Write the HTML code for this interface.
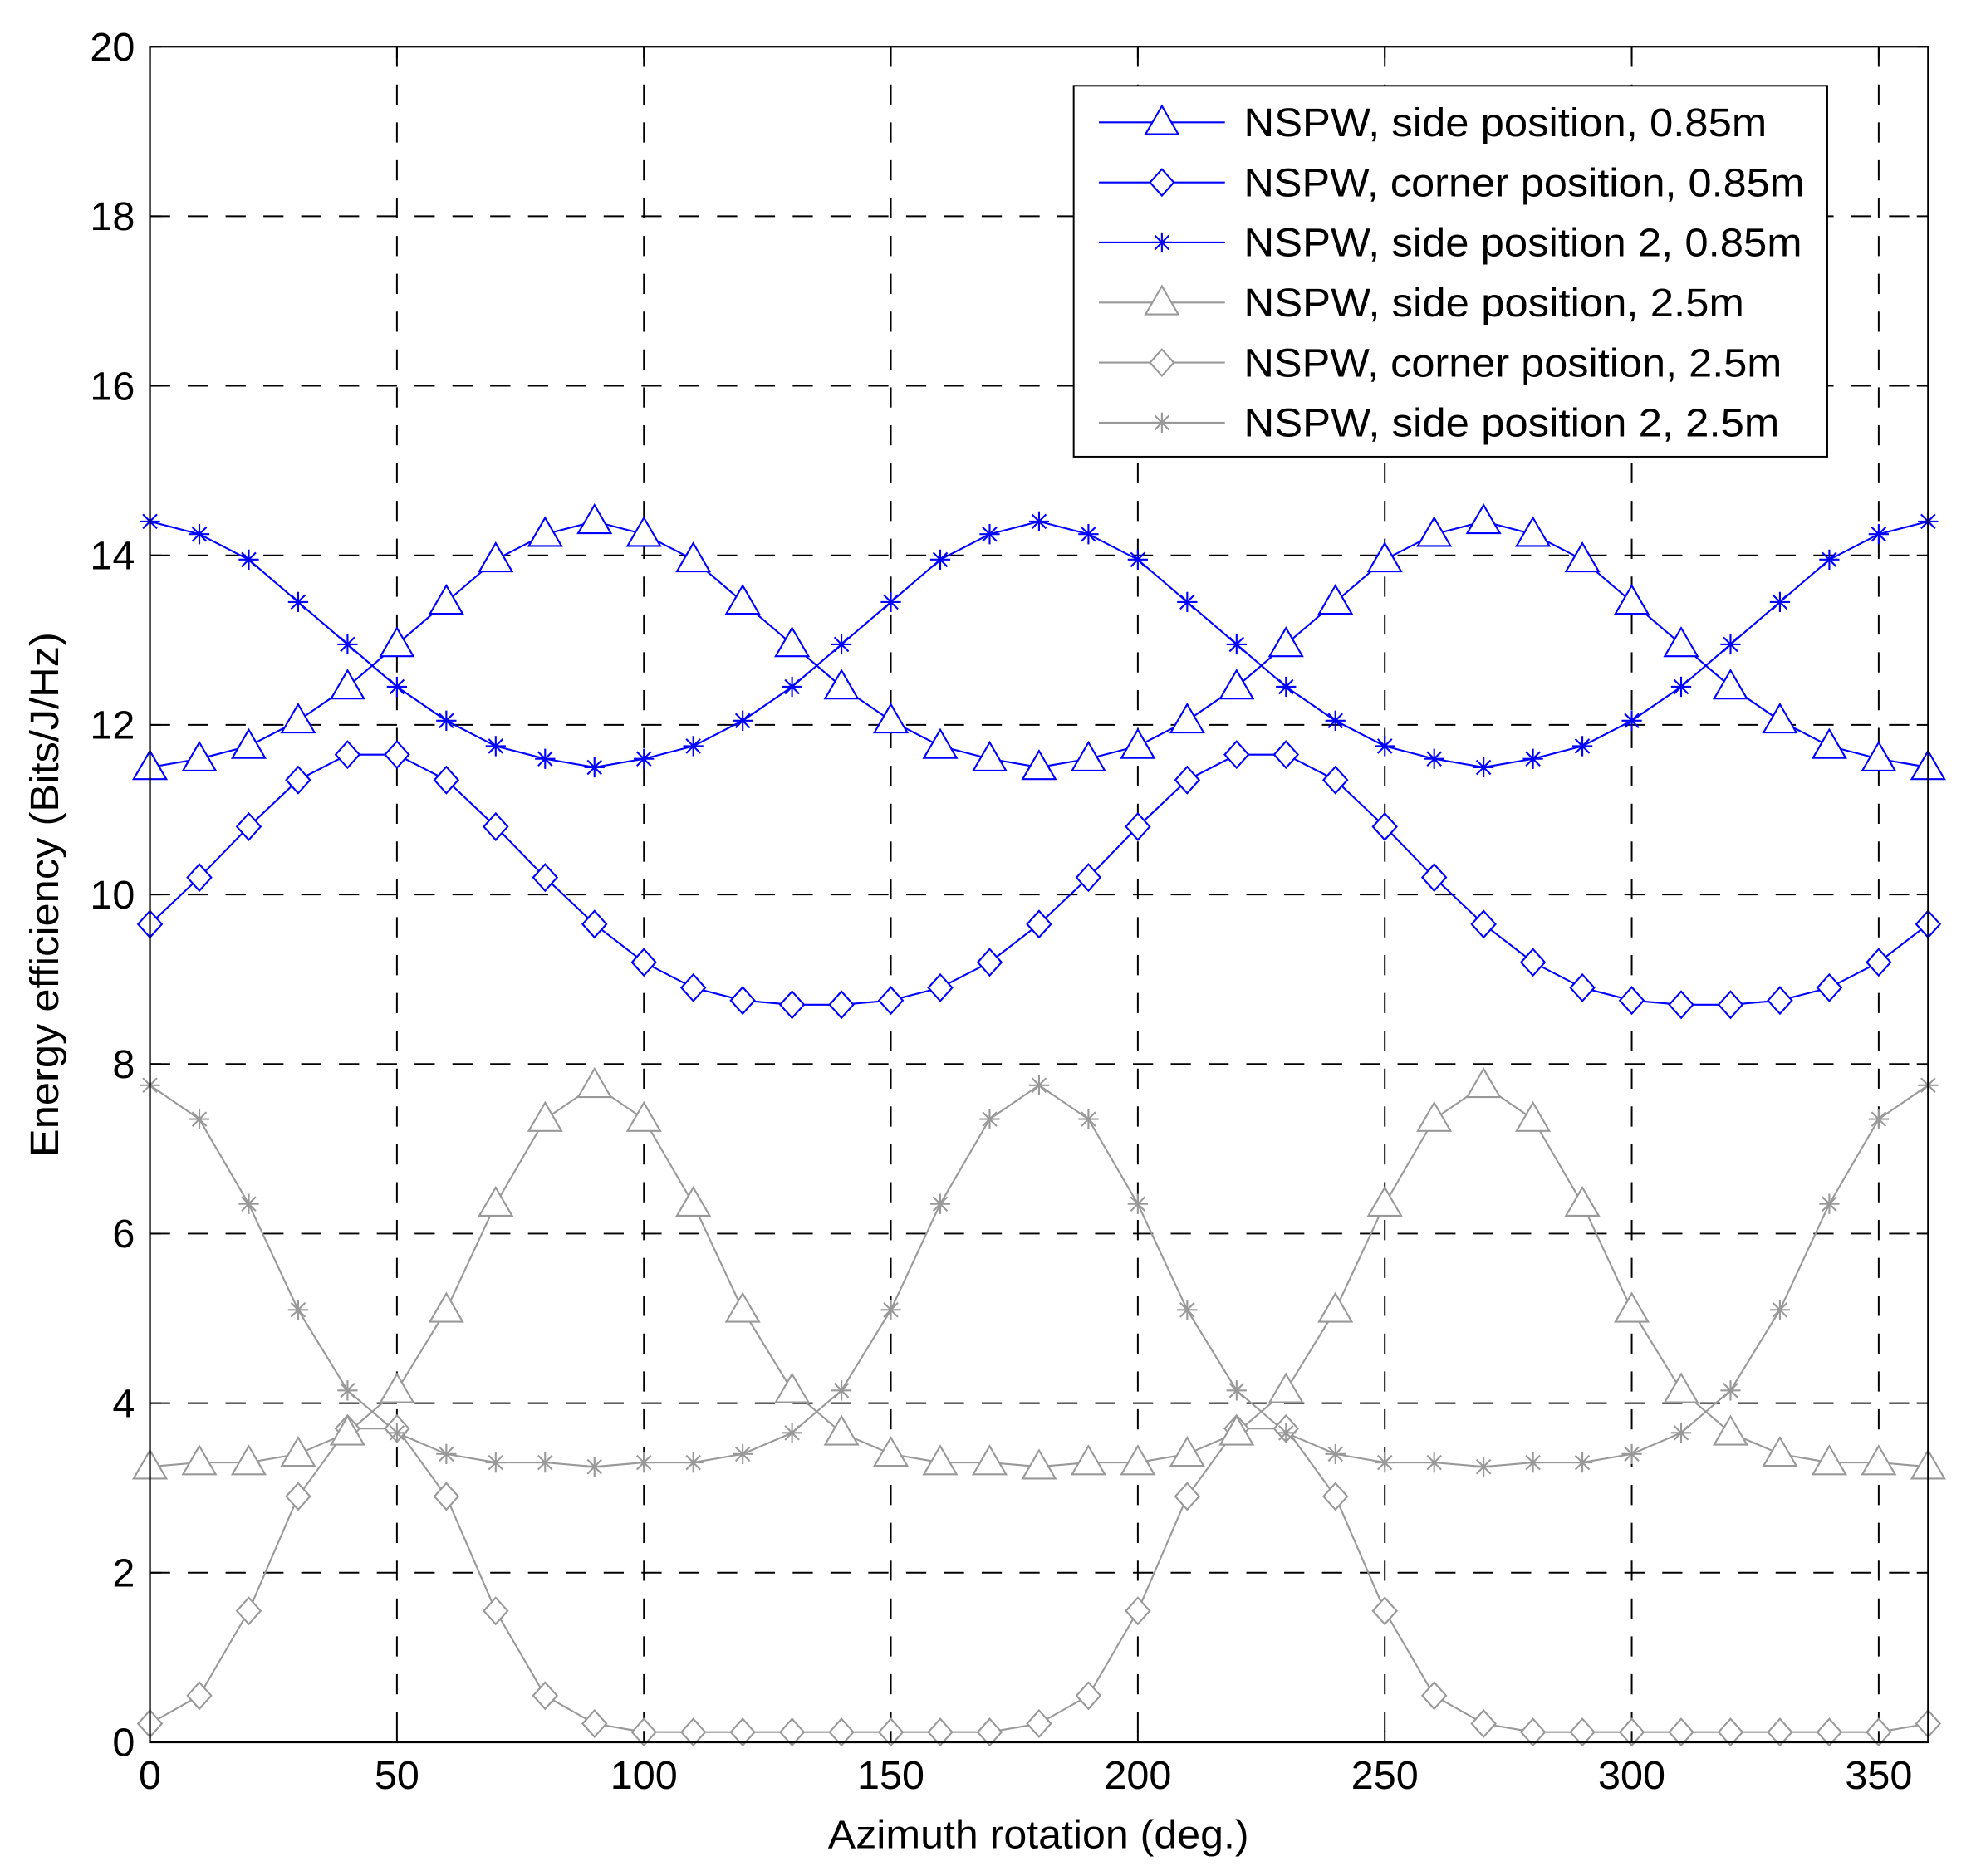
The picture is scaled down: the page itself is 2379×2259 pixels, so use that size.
<!DOCTYPE html>
<html><head><meta charset="utf-8"><style>html,body{margin:0;padding:0;background:#fff}svg{display:block}</style></head>
<body>
<svg id="s" width="2379" height="2259" viewBox="0 0 1568 1487" preserveAspectRatio="none" xmlns="http://www.w3.org/2000/svg" font-family="Liberation Sans, Arial, sans-serif">
<rect x="0" y="0" width="1568" height="1487" fill="#fff"/>
<g id="grid" stroke="#000" stroke-width="1.3" stroke-dasharray="16,14" fill="none"></g>
<g id="data"></g>
<rect x="119" y="37" width="1411" height="1344" fill="none" stroke="#000" stroke-width="1.5"/>
<g id="ticks" stroke="#000" stroke-width="1.3"></g>
<g id="labels" font-size="32" fill="#000"></g>
<text x="824" y="1465" font-size="32" text-anchor="middle" textLength="334" lengthAdjust="spacingAndGlyphs">Azimuth rotation (deg.)</text>
<text transform="translate(46,709) rotate(-90)" font-size="32" text-anchor="middle" textLength="416" lengthAdjust="spacingAndGlyphs">Energy efficiency (Bits/J/Hz)</text>
<rect x="852" y="68" width="598" height="294" fill="#fff" stroke="#000" stroke-width="1.3"/>
<g id="legend" font-size="32"></g>
</svg>
<script>
const NS="http://www.w3.org/2000/svg";
function el(p,t,a,txt){const e=document.createElementNS(NS,t);for(const k in a)e.setAttribute(k,a[k]);if(txt!==undefined)e.textContent=txt;document.getElementById(p).appendChild(e);return e;}
const X=d=>119+d*(1411/360), Y=v=>1381-v*(1344/20);
for(let d=50;d<=350;d+=50){el('grid','line',{x1:X(d),x2:X(d),y1:37,y2:1381});}
for(let v=2;v<=18;v+=2){el('grid','line',{x1:119,x2:1530,y1:Y(v),y2:Y(v)});}
for(let d=0;d<=350;d+=50){el('ticks','line',{x1:X(d),x2:X(d),y1:1381,y2:1372});el('ticks','line',{x1:X(d),x2:X(d),y1:37,y2:46});
 el('labels','text',{x:X(d),y:1418,'text-anchor':'middle'},String(d));}
for(let v=0;v<=20;v+=2){el('ticks','line',{x1:119,x2:128,y1:Y(v),y2:Y(v)});el('ticks','line',{x1:1530,x2:1521,y1:Y(v),y2:Y(v)});
 el('labels','text',{x:107,y:Y(v)+11,'text-anchor':'end'},String(v));}
const side=[11.5,11.6,11.75,12.05,12.45,12.95,13.45,13.95,14.25,14.4,14.25,13.95,13.45,12.95,12.45,12.05,11.75,11.6];
const corner=[9.65,10.2,10.8,11.35,11.65,11.65,11.35,10.8,10.2,9.65,9.2,8.9,8.75,8.7,8.7,8.75,8.9,9.2];
const gside=[3.25,3.3,3.3,3.4,3.65,4.15,5.1,6.35,7.35,7.75,7.35,6.35,5.1,4.15,3.65,3.4,3.3,3.3];
const gcorner=[0.22,0.55,1.55,2.9,3.7,3.7,2.9,1.55,0.55,0.22,0.12,0.12,0.12,0.12,0.12,0.12,0.12,0.12];
const per=(a,shift)=>{const r=[];for(let i=0;i<=36;i++)r.push(a[(i+shift)%18]);return r;};
function marker(g,type,x,y,c,sc){sc=sc||1;
 if(type==='t'){const h=13*sc;el(g,'polygon',{points:`${x},${y-h} ${x-h},${y+h*0.72} ${x+h},${y+h*0.72}`,fill:'#fff',stroke:c,'stroke-width':1.4});}
 else if(type==='d'){const h=10.5*sc;el(g,'polygon',{points:`${x},${y-h} ${x+h*0.9},${y} ${x},${y+h} ${x-h*0.9},${y}`,fill:'#fff',stroke:c,'stroke-width':1.4});}
 else {const h=8;el(g,'path',{d:`M${x-h},${y}H${x+h}M${x},${y-h}V${y+h}M${x-h*0.7},${y-h*0.7}L${x+h*0.7},${y+h*0.7}M${x-h*0.7},${y+h*0.7}L${x+h*0.7},${y-h*0.7}`,stroke:c,'stroke-width':1.4,fill:'none'});}}
const series=[[per(gcorner,0),'d','#999'],[per(gside,0),'t','#999'],[per(gside,9),'s','#999'],
 [per(corner,0),'d','#0000ff'],[per(side,0),'t','#0000ff'],[per(side,9),'s','#0000ff']];
for(const [vals,m,c] of series){let d='';vals.forEach((v,i)=>{d+=(i?'L':'M')+X(i*10)+','+Y(v);});
 el('data','path',{d,stroke:c,'stroke-width':1.4,fill:'none'});}
for(const [vals,m,c] of series){vals.forEach((v,i)=>marker('data',m,X(i*10),Y(v),c));}
const leg=[['NSPW, side position, 0.85m','t','#0000ff',415],['NSPW, corner position, 0.85m','d','#0000ff',445],['NSPW, side position 2, 0.85m','s','#0000ff',443],
 ['NSPW, side position, 2.5m','t','#999',397],['NSPW, corner position, 2.5m','d','#999',427],['NSPW, side position 2, 2.5m','s','#999',425]];
leg.forEach((l,i)=>{const y=97+i*47.6;el('legend','line',{x1:872,x2:972,y1:y,y2:y,stroke:l[2],'stroke-width':1.4});
 marker('legend',l[1],922,y,l[2]);el('legend','text',{x:987,y:y+11,textLength:l[3],lengthAdjust:'spacingAndGlyphs'},l[0]);});
</script>
</body></html>
